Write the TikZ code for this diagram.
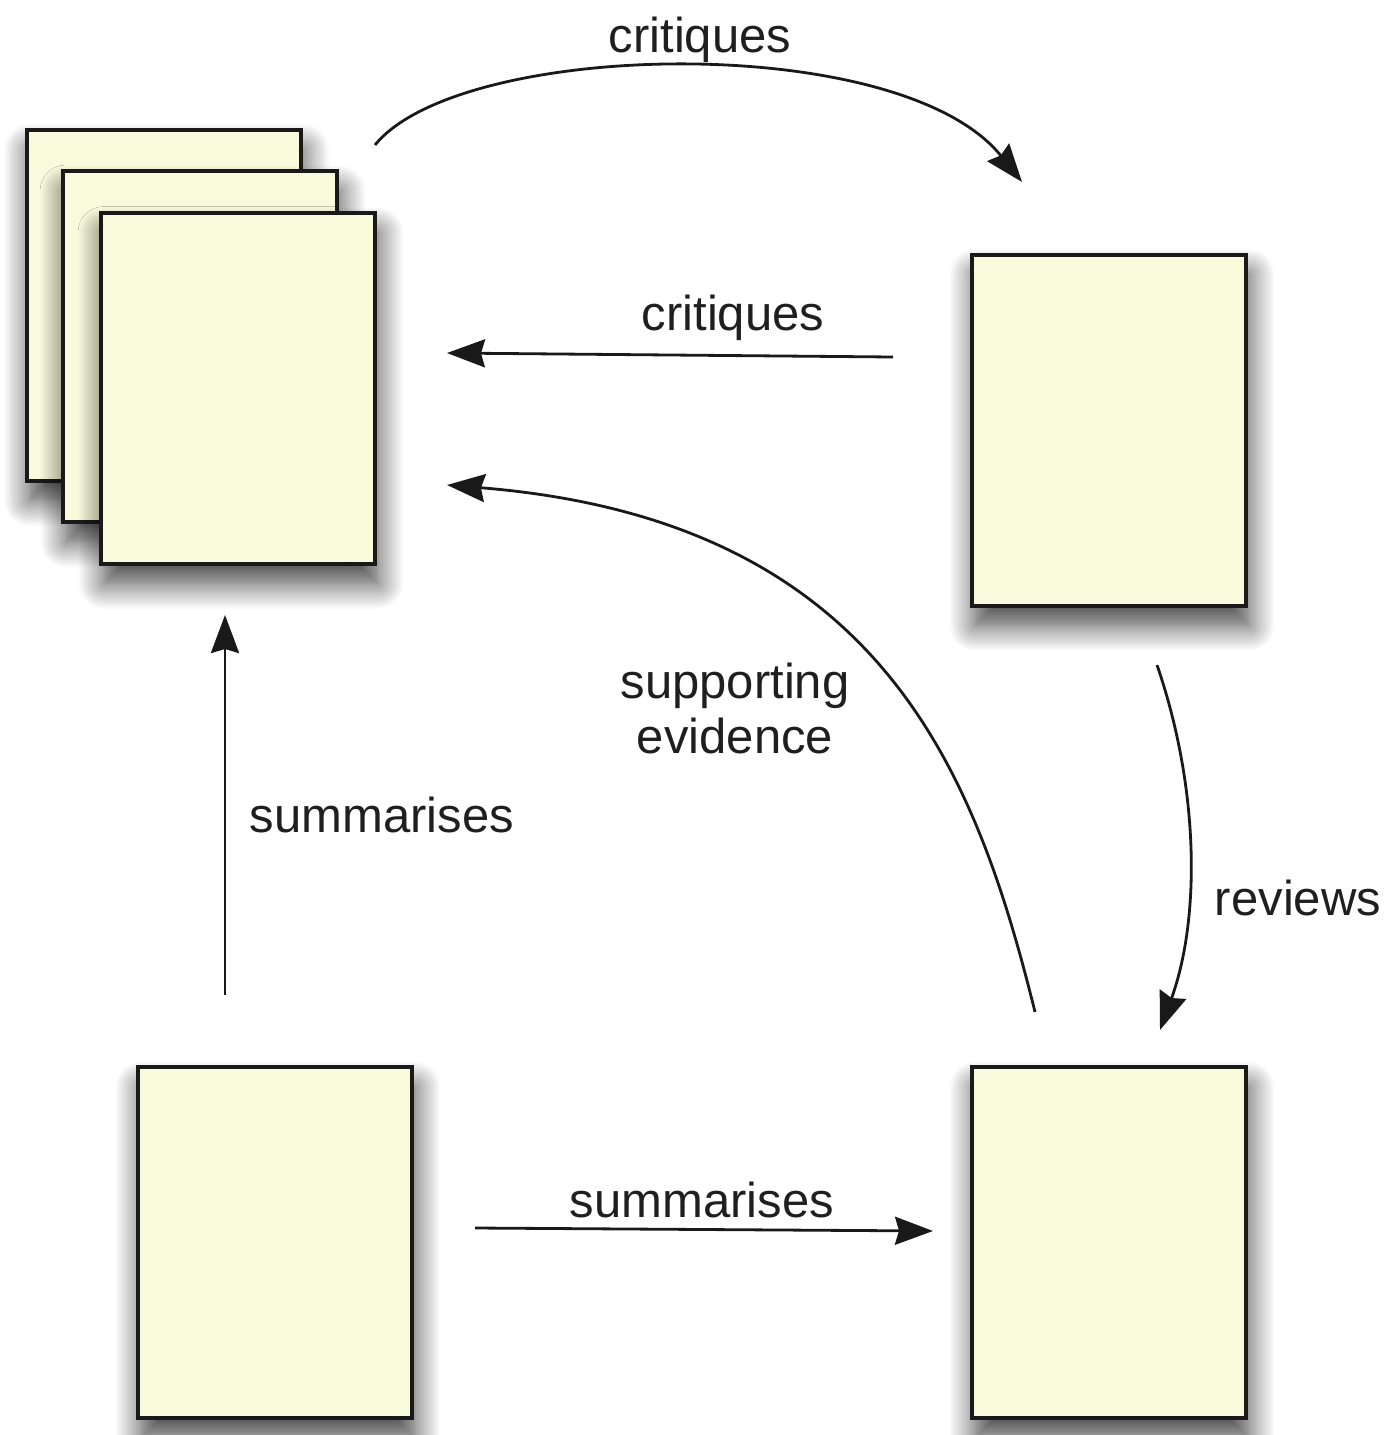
\documentclass[tikz,border=0pt]{standalone}
\usepackage{fontspec}
\setmainfont{Liberation Sans}
\usetikzlibrary{arrows.meta,shadows.blur}
\definecolor{paper}{HTML}{F8FADC}
\begin{document}
\begin{tikzpicture}[x=0.5pt,y=-0.5pt,
  doc/.style={draw=black!90,line width=2pt,fill=paper,minimum width=137pt,minimum height=175.5pt,inner sep=0pt,
    blur shadow={shadow xshift=1.5pt,shadow yshift=-10pt,shadow blur radius=13pt,shadow blur steps=14,shadow opacity=75}},
  conn/.style={line width=1.4pt,draw=black!90,-{Stealth[length=19pt,width=14pt,inset=2pt]}},
  lbl/.style={font=\fontsize{24.5}{27.5}\selectfont,text=black!88,inner sep=0pt,align=center}]
\useasboundingbox (0,0) rectangle (1393,1435);
% stacked documents
\node[doc] (back) at (163.5,305) {};
\node[doc] (mid) at (200,346.5) {};
\node[doc] (front) at (238,388) {};
\node[doc] (tr) at (1109,430) {};
\node[doc] (bl) at (275,1242.5) {};
\node[doc] (br) at (1109,1242.5) {};
% connector end points
\coordinate (c1s) at (375,145);
\coordinate (c1e) at (1022,182);
\coordinate (c2s) at (893,357);
\coordinate (c2e) at (447,353);
\coordinate (c3s) at (1035,1012);
\coordinate (c3e) at (447,485);
\coordinate (c4s) at (1157,665);
\coordinate (c4e) at (1160,1030);
\coordinate (c5s) at (225,995);
\coordinate (c5e) at (225,615);
\coordinate (c6s) at (475,1228);
\coordinate (c6e) at (933,1231);
\draw[conn] (c1s) .. controls (460,40) and (900,30) .. (c1e);
\draw[conn] (c2s) -- (c2e);
\draw[conn] (c3s) .. controls (975,770) and (880,520) .. (c3e);
\draw[conn] (c4s) .. controls (1200,790) and (1200,920) .. (c4e);
\draw[conn] (c5s) -- (c5e);
\draw[conn] (c6s) -- (c6e);
% labels
\node[lbl] (l1) at (700,40) {critiques};
\node[lbl] (l2) at (733,318) {critiques};
\node[lbl] (l3) at (735,708) {supporting\\evidence};
\node[lbl] (l4) at (1298,898) {reviews};
\node[lbl] (l5) at (382,815) {summarises};
\node[lbl] (l6) at (702,1200) {summarises};
\end{tikzpicture}
\end{document}
